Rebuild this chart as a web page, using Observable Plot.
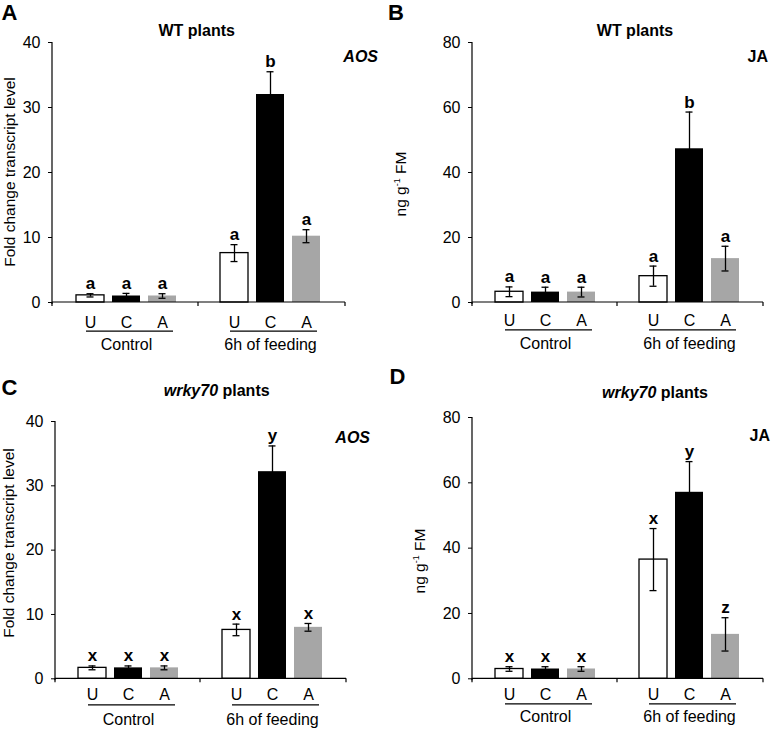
<!DOCTYPE html>
<html>
<head>
<meta charset="utf-8">
<script src="https://cdn.jsdelivr.net/npm/d3@7"></script>
<script src="https://cdn.jsdelivr.net/npm/@observablehq/plot@0.6"></script>
<style>
  body { margin: 0; background: #fff; }
  #fig { position: relative; width: 771px; height: 729px; overflow: hidden;
         font-family: "Liberation Sans", Arial, sans-serif; color: #000; }
  .abs { position: absolute; white-space: nowrap; line-height: 1; }
  .panel { position: absolute; }
  .letter { font-weight: bold; font-size: 22px; transform: translate(-50%, -50%); }
  .title { font-weight: bold; font-size: 16px; transform: translate(-50%, -50%); }
  .gene { font-weight: bold; font-size: 16px; transform: translate(-100%, -50%); }
  .ylab { font-size: 15.5px; transform: translate(-50%, -50%) rotate(-90deg); }
  sup { font-size: 9px; vertical-align: 6px; line-height: 0; }
</style>
</head>
<body>
<div id="fig"></div>
<script>
// ---------- data ----------
const groups = ["Control", "6h of feeding"];
const treatments = ["U", "C", "A"];

// A: WT plants, AOS transcript (fold change)
const wtAOSMean = [1.1, 1.0, 1.0, 7.6, 32.0, 10.2];
const wtAOSErr  = [0.25, 0.4, 0.35, 1.3, 3.5, 1.0];
const wtAOSSig  = ["a", "a", "a", "a", "b", "a"];

// B: WT plants, JA (ng g-1 FM)
const wtJAMean = [3.3, 3.2, 3.2, 8.1, 47.3, 13.5];
const wtJAErr  = [1.5, 1.5, 1.5, 3.1, 11.3, 3.8];
const wtJASig  = ["a", "a", "a", "a", "b", "a"];

// C: wrky70 plants, AOS transcript
const wrkyAOSMean = [1.7, 1.7, 1.7, 7.6, 32.2, 8.0];
const wrkyAOSErr  = [0.3, 0.3, 0.3, 0.9, 4.0, 0.6];
const wrkyAOSSig  = ["x", "x", "x", "x", "y", "x"];

// D: wrky70 plants, JA
const wrkyJAMean = [3.0, 3.0, 3.0, 36.5, 57.1, 13.6];
const wrkyJAErr  = [0.7, 0.7, 0.7, 9.5, 9.4, 5.1];
const wrkyJASig  = ["x", "x", "x", "x", "y", "z"];

const aosTicks = [0, 10, 20, 30, 40];
const jaTicks  = [0, 20, 40, 60, 80];

// ---------- styling ----------
const fills = { U: "#ffffff", C: "#000000", A: "#a6a6a6" };
const FONT = '"Liberation Sans", Arial, sans-serif';

function makePanel(mean, err, sig, ticks, L) {
  const keys = [];
  groups.forEach((g, gi) => {
    treatments.forEach(t => keys.push(g + "|" + t));
    if (gi === 0) keys.push("gap");
  });
  const rows = [];
  groups.forEach((g, gi) => treatments.forEach((t, ti) => {
    const i = gi * treatments.length + ti;
    rows.push({ key: g + "|" + t, group: g, trt: t, mean: mean[i], err: err[i], sig: sig[i] });
  }));
  const under = groups.map(g => ({ group: g, from: g + "|U", to: g + "|A", mid: g + "|C" }));
  const yMax = ticks[ticks.length - 1];

  // axis lines (y-axis line, x baseline and its three downward ticks)
  const axisLines = (index, scales, values, dims) => {
    const { x, y } = scales;
    const bw = x.bandwidth ? x.bandwidth() : 0;
    const x0 = dims.marginLeft, x1 = dims.width - dims.marginRight;
    const y0 = y(0), yt = y(yMax);
    const xm = x("gap") + bw / 2;
    const g = d3.create("svg:g").attr("stroke", "#000").attr("stroke-width", 1.2).attr("fill", "none");
    g.append("line").attr("x1", x0).attr("x2", x0).attr("y1", yt).attr("y2", y0 + 2);
    g.append("line").attr("x1", x0).attr("x2", x1).attr("y1", y0).attr("y2", y0);
    for (const xx of [x0, xm, x1]) {
      g.append("line").attr("x1", xx).attr("x2", xx).attr("y1", y0).attr("y2", y0 + 4);
    }
    return g.node();
  };

  const plot = Plot.plot({
    width: L.width, height: L.height,
    marginLeft: L.ml, marginRight: L.mr, marginTop: L.mt, marginBottom: L.mb,
    style: { fontFamily: FONT, fontSize: "16px", background: "transparent", overflow: "visible", color: "#000" },
    x: { type: "band", domain: keys, paddingInner: 0.216, paddingOuter: 0.59 },
    y: { domain: [0, yMax] },
    marks: [
      ...treatments.map(t => Plot.barY(rows.filter(d => d.trt === t), {
        x: "key", y: "mean", fill: fills[t],
        stroke: t === "U" ? "#000" : "none", strokeWidth: 1.3
      })),
      Plot.ruleX(rows, { x: "key", y1: d => d.mean - d.err, y2: d => d.mean + d.err, stroke: "#000", strokeWidth: 1.3 }),
      Plot.tickY(rows, { x: "key", y: d => d.mean + d.err, insetLeft: 10.5, insetRight: 10.5, stroke: "#000", strokeWidth: 1.3 }),
      Plot.tickY(rows, { x: "key", y: d => d.mean - d.err, insetLeft: 10.5, insetRight: 10.5, stroke: "#000", strokeWidth: 1.3 }),
      Plot.text(rows, { x: "key", y: d => d.mean + d.err, text: "sig", dy: -10, fontWeight: "bold", fontSize: 17, fill: "#000" }),
      Plot.axisY({ ticks: ticks, tickSize: 4, tickPadding: 8, label: null, fontSize: 16, tickFormat: d => String(d) }),
      Plot.axisX({ ticks: keys.filter(k => k !== "gap"), tickSize: 0, tickPadding: L.xPad, label: null,
                   fontSize: 16, tickFormat: k => k.split("|")[1] }),
      Plot.ruleY(under, { x1: "from", x2: "to", y: () => 0, dy: L.underDy, insetLeft: 10, insetRight: 3, stroke: "#000", strokeWidth: 1.2 }),
      Plot.text(under, { x: "mid", y: () => 0, text: "group", dy: L.groupDy, fontSize: 16, fill: "#000" }),
      axisLines
    ]
  });
  plot.classList.add("panel");
  plot.style.left = L.left + "px";
  plot.style.top = L.top + "px";
  return plot;
}

const fig = document.getElementById("fig");

fig.appendChild(makePanel(wtAOSMean, wtAOSErr, wtAOSSig, aosTicks,
  { left: 0, top: 0, width: 385, height: 360, ml: 52, mr: 40, mt: 42, mb: 58, xPad: 13.7, underDy: 28.7, groupDy: 42.7 }));
fig.appendChild(makePanel(wtJAMean, wtJAErr, wtJASig, jaTicks,
  { left: 385, top: 0, width: 386, height: 360, ml: 87, mr: 8, mt: 42, mb: 58, xPad: 12.6, underDy: 27.3, groupDy: 41.6 }));
fig.appendChild(makePanel(wrkyAOSMean, wrkyAOSErr, wrkyAOSSig, aosTicks,
  { left: 0, top: 368, width: 385, height: 361, ml: 55, mr: 39, mt: 53, mb: 50.7, xPad: 10.3, underDy: 26, groupDy: 41 }));
fig.appendChild(makePanel(wrkyJAMean, wrkyJAErr, wrkyJASig, jaTicks,
  { left: 385, top: 368, width: 386, height: 361, ml: 87, mr: 8, mt: 49, mb: 50.7, xPad: 10.3, underDy: 25, groupDy: 38.4 }));

// ---------- texts ----------
function addText(cls, html, x, y) {
  const el = document.createElement("div");
  el.className = "abs " + cls;
  el.innerHTML = html;
  el.style.left = x + "px";
  el.style.top = y + "px";
  fig.appendChild(el);
}
addText("letter", "A", 9.5, 13);
addText("letter", "B", 396, 13);
addText("letter", "C", 9.5, 387.5);
addText("letter", "D", 397.5, 377);

addText("title", "WT plants", 196.7, 31);
addText("title", "WT plants", 635, 31);
addText("title", "<i>wrky70</i> plants", 216.7, 391);
addText("title", "<i>wrky70</i> plants", 655, 393);

addText("gene", "<i>AOS</i>", 378, 57);
addText("gene", "JA", 768, 57);
addText("gene", "<i>AOS</i>", 370, 437.5);
addText("gene", "JA", 770, 436);

addText("ylab", "Fold change transcript level", 10, 172);
addText("ylab", "ng g<sup>-1</sup> FM", 401, 184);
addText("ylab", "Fold change transcript level", 9, 542.5);
addText("ylab", "ng g<sup>-1</sup> FM", 420, 561);
</script>
</body>
</html>
